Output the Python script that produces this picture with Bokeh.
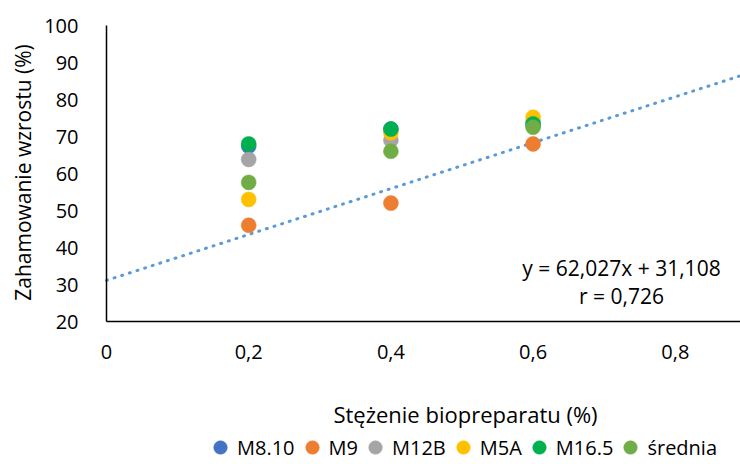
import math
from bokeh.plotting import figure
from bokeh.models import Range1d, FixedTicker, Legend, LegendItem, Label
from bokeh.embed import file_html
from bokeh.resources import INLINE

# ---- data ----
conc = [0.2, 0.4, 0.6]
m8_10 = [67.4, 72.0, 73.0]
m9 = [46.0, 52.0, 68.0]
m12b = [63.8, 69.0, 74.0]
m5a = [53.0, 71.0, 75.2]
m16_5 = [68.0, 72.0, 73.4]
srednia = [57.6, 66.0, 72.5]

series_names = ["M8.10", "M9", "M12B", "M5A", "M16.5", "średnia"]
series_vals = [m8_10, m9, m12b, m5a, m16_5, srednia]
series_colors = ["#4472C4", "#ED7D31", "#A5A5A5", "#FFC000", "#00B050", "#70AD47"]

trend_slope = 62.027
trend_intercept = 31.108
trend_text = ["y = 62,027x + 31,108", "r = 0,726"]

y_ticks = [20, 30, 40, 50, 60, 70, 80, 90, 100]
x_ticks = [0, 0.2, 0.4, 0.6, 0.8]
x_tick_labels = ["0", "0,2", "0,4", "0,6", "0,8"]

x_title = "Stężenie biopreparatu (%)"
y_title = "Zahamowanie wzrostu (%)"

FONT = "Open Sans"

# ---- layout (pixels) ----
W, H = 740, 464
AX_LEFT, AX_TOP, AX_BOTTOM = 106, 25, 321      # axis corner positions on canvas
X_PX_PER_UNIT = 711.0
Y_MIN, Y_MAX = 20, 100
y_px_per_unit = (AX_BOTTOM - AX_TOP) / (Y_MAX - Y_MIN)

x_start = -AX_LEFT / X_PX_PER_UNIT
x_end = (W - AX_LEFT) / X_PX_PER_UNIT
y_end = Y_MAX + AX_TOP / y_px_per_unit
y_start = Y_MIN - (H - AX_BOTTOM) / y_px_per_unit

p = figure(width=W, height=H, output_backend="svg", toolbar_location=None,
           x_range=Range1d(x_start, x_end), y_range=Range1d(y_start, y_end),
           min_border=0)
p.outline_line_color = None
p.xgrid.visible = False
p.ygrid.visible = False
p.background_fill_color = "white"
p.border_fill_color = "white"

for ax in (p.xaxis[0], p.yaxis[0]):
    ax.axis_line_color = "black"
    ax.axis_line_width = 1.5
    ax.major_tick_line_color = None
    ax.minor_tick_line_color = None
    ax.major_label_text_font = FONT
    ax.major_label_text_font_size = "20px"
    ax.major_label_text_color = "black"

p.yaxis.ticker = FixedTicker(ticks=y_ticks)
p.yaxis.bounds = (Y_MIN, Y_MAX)
p.yaxis.fixed_location = 0
p.yaxis.major_label_standoff = 22

p.xaxis.ticker = FixedTicker(ticks=x_ticks)
p.xaxis.major_label_overrides = {t: l for t, l in zip(x_ticks, x_tick_labels)}
p.xaxis.bounds = (0, x_end)
p.xaxis.fixed_location = Y_MIN
p.xaxis.major_label_standoff = 17

# linear trendline (from the chart's equation)
trend_x = [0, x_end]
trend_y = [trend_slope * x + trend_intercept for x in trend_x]
p.line(trend_x, trend_y, line_color="#5B9BD5", line_width=3, line_dash="1 7",
       line_cap="round")

items = []
for name, vals, col in zip(series_names, series_vals, series_colors):
    r = p.scatter(conc, vals, size=15, marker="circle", fill_color=col,
                  line_color=col, line_width=0.5)
    items.append(LegendItem(label=name, renderers=[r]))

legend = Legend(items=items, orientation="horizontal", location=(203, 0),
                glyph_width=34, glyph_height=34, label_standoff=-1, spacing=-2,
                padding=0, margin=0, border_line_color=None,
                background_fill_alpha=0, label_text_font=FONT,
                label_text_font_size="20px", label_text_color="black")
p.add_layout(legend, "center")

# axis titles
p.add_layout(Label(x=465, y=51, x_units="screen", y_units="screen", text=x_title,
                   text_align="center", text_baseline="middle", text_font=FONT,
                   text_font_size="22px", text_color="black"))
p.add_layout(Label(x=22, y=292, x_units="screen", y_units="screen", text=y_title,
                   angle=math.pi / 2, text_align="center", text_baseline="middle",
                   text_font=FONT, text_font_size="21px", text_color="black"))

# trendline equation
p.add_layout(Label(x=621, y=197, x_units="screen", y_units="screen", text=trend_text[0],
                   text_align="center", text_baseline="middle", text_font=FONT,
                   text_font_size="21px", text_color="black"))
p.add_layout(Label(x=621, y=169, x_units="screen", y_units="screen", text=trend_text[1],
                   text_align="center", text_baseline="middle", text_font=FONT,
                   text_font_size="21px", text_color="black"))

open("out.html", "w").write(file_html(p, INLINE))
